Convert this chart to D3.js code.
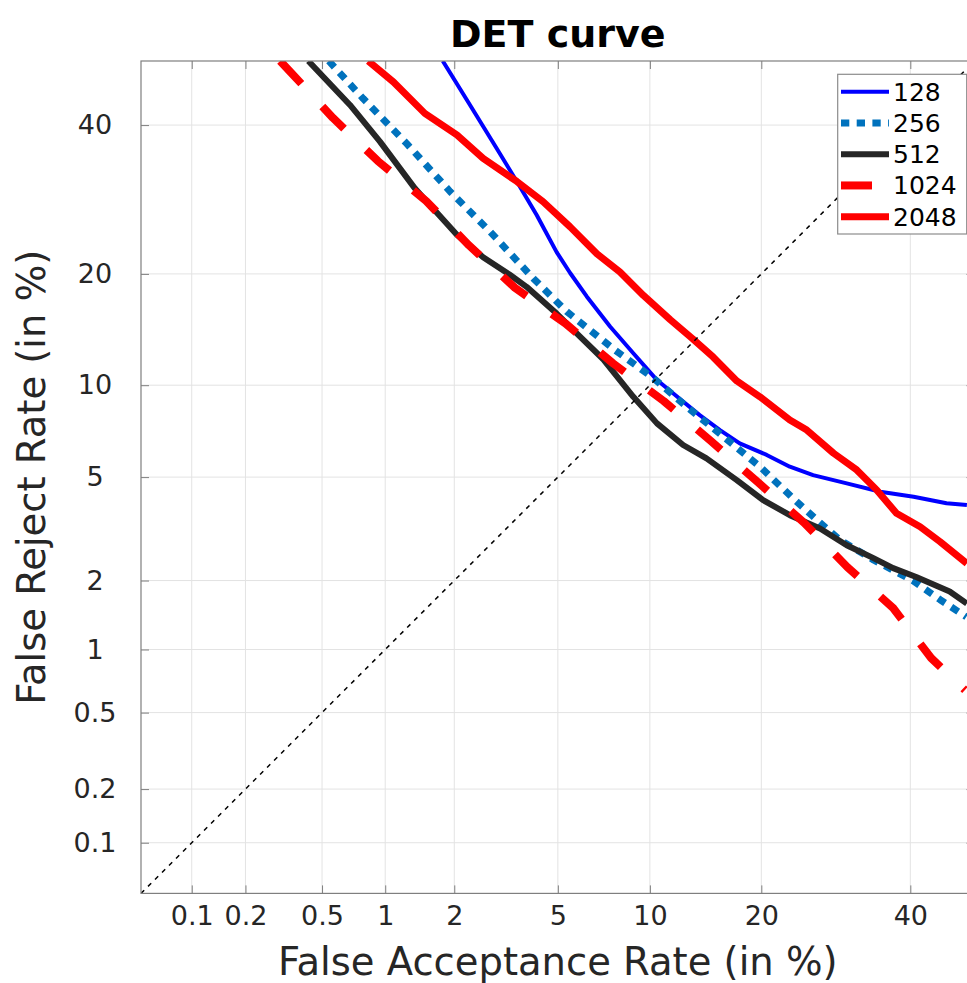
<!DOCTYPE html>
<html>
<head>
<meta charset="utf-8">
<script src="https://cdn.jsdelivr.net/npm/d3@7"></script>
<style>
  html, body { margin: 0; padding: 0; background: #fff; }
  svg { display: block; font-family: "DejaVu Sans", sans-serif; }
</style>
</head>
<body>
<svg id="chart" width="967" height="983"></svg>
<script>
// Tick positions (in %) and their labels
const xTicks = [0.1, 0.2, 0.5, 1, 2, 5, 10, 20, 40];
const yTicks = [0.1, 0.2, 0.5, 1, 2, 5, 10, 20, 40];
const tickLabels = ["0.1", "0.2", "0.5", "1", "2", "5", "10", "20", "40"];
const axisLimits = [0.05, 50];

// Legend entries (embedding sizes)
const seriesNames = ["128", "256", "512", "1024", "2048"];

// False acceptance / false reject rates (in %) for each system
const far128 = [1.79, 2.32, 2.96, 3.54, 4.2, 4.95, 5.52, 6.29, 7.51, 8.9, 10.5, 12.25, 13.9, 15.75, 17.7, 20.6, 23.3, 26.2, 30.7, 35.5, 40.5, 45.6, 48.8];
const frr128 = [50, 43.1, 36.5, 31.7, 27.1, 22.5, 20.1, 17.6, 14.7, 12.4, 10.36, 9.07, 8.08, 7.23, 6.53, 5.97, 5.44, 5.08, 4.75, 4.43, 4.25, 4.02, 3.96];

const far256 = [0.54, 0.79, 1.25, 1.92, 2.79, 4.08, 5.37, 7.79, 10.25, 12.8, 16.1, 19.85, 23.7, 26.7, 29.8, 34.5, 40.5, 44.6, 48.7];
const frr256 = [50, 44.1, 37.2, 30.3, 25.0, 19.5, 16.1, 12.66, 10.5, 8.58, 6.87, 5.44, 4.19, 3.48, 2.91, 2.43, 1.99, 1.66, 1.40];

const far512 = [0.427, 0.684, 0.946, 1.36, 2.05, 2.62, 3.33, 3.85, 4.95, 5.97, 7.15, 8.9, 10.5, 12.5, 14.5, 17.4, 20.2, 23.3, 27.1, 30.7, 34.5, 37.4, 40.9, 46.1, 48.8];
const frr512 = [50, 43.1, 37.5, 30.7, 24.6, 21.9, 19.9, 18.6, 15.9, 13.8, 11.9, 9.22, 7.6, 6.45, 5.81, 4.88, 4.13, 3.63, 3.23, 2.78, 2.47, 2.25, 2.07, 1.80, 1.60];

const far1024 = [0.306, 0.348, 0.566, 0.927, 1.52, 2.30, 3.48, 5.30, 7.68, 11.0, 14.9, 19.6, 25.05, 30.8, 37.4, 43.2, 48.5];
const frr1024 = [50, 48.2, 41.1, 34.6, 29.0, 23.3, 18.5, 15.0, 11.6, 8.94, 6.65, 4.80, 3.40, 2.27, 1.53, 0.914, 0.645];

const far2048 = [0.835, 1.09, 1.50, 2.05, 2.62, 3.54, 4.43, 5.52, 6.8, 8.08, 9.56, 11.5, 13.3, 15.1, 17.4, 19.85, 23.3, 25.4, 28.9, 32.1, 35.0, 37.9, 41.5, 44.6, 48.8];
const frr2048 = [50, 46.7, 41.8, 38.5, 35.0, 31.7, 28.9, 25.6, 22.3, 20.2, 17.7, 15.3, 13.6, 12.1, 10.3, 9.22, 7.79, 7.23, 6.05, 5.3, 4.49, 3.69, 3.28, 2.87, 2.35];

// Inverse of the standard normal CDF (Acklam's rational approximation)
function probit(p) {
  const a = [-3.969683028665376e+01, 2.209460984245205e+02, -2.759285104469687e+02, 1.383577518672690e+02, -3.066479806614716e+01, 2.506628277459239e+00];
  const b = [-5.447609879822406e+01, 1.615858368580409e+02, -1.556989798598866e+02, 6.680131188771972e+01, -1.328068155288572e+01];
  const c = [-7.784894002430293e-03, -3.223964580411365e-01, -2.400758277161838e+00, -2.549732539343734e+00, 4.374664141464968e+00, 2.938163982698783e+00];
  const d = [7.784695709041462e-03, 3.224671290700398e-01, 2.445134137142996e+00, 3.754408661907416e+00];
  const pl = 0.02425, ph = 1 - pl;
  if (p < pl) {
    const q = Math.sqrt(-2 * Math.log(p));
    return (((((c[0]*q+c[1])*q+c[2])*q+c[3])*q+c[4])*q+c[5]) / ((((d[0]*q+d[1])*q+d[2])*q+d[3])*q+1);
  }
  if (p <= ph) {
    const q = p - 0.5, r = q * q;
    return (((((a[0]*r+a[1])*r+a[2])*r+a[3])*r+a[4])*r+a[5])*q / (((((b[0]*r+b[1])*r+b[2])*r+b[3])*r+b[4])*r+1);
  }
  const q = Math.sqrt(-2 * Math.log(1 - p));
  return -(((((c[0]*q+c[1])*q+c[2])*q+c[3])*q+c[4])*q+c[5]) / ((((d[0]*q+d[1])*q+d[2])*q+d[3])*q+1);
}

// Normal-deviate scale for percentages, usable by d3.axis
function scaleProbit(domainPct, range) {
  const lin = d3.scaleLinear().domain(domainPct.map(v => probit(v / 100))).range(range);
  const s = v => lin(probit(v / 100));
  s.domain = () => domainPct.slice();
  s.range = () => lin.range();
  s.copy = () => scaleProbit(domainPct, range);
  return s;
}

const plot = { left: 141, top: 61, right: 974.5, bottom: 893.4 };
const x = scaleProbit(axisLimits, [plot.left, plot.right]);
const y = scaleProbit(axisLimits, [plot.bottom, plot.top]);

const svg = d3.select("#chart");
svg.append("rect").attr("width", 967).attr("height", 983).attr("fill", "#fff");

svg.append("defs").append("clipPath").attr("id", "plot-clip")
  .append("rect")
  .attr("x", plot.left).attr("y", plot.top)
  .attr("width", plot.right - plot.left).attr("height", plot.bottom - plot.top);

// Grid
const grid = svg.append("g").attr("stroke", "#e3e3e3").attr("stroke-width", 1);
grid.selectAll("line.gx").data(xTicks).join("line").attr("class", "gx")
  .attr("x1", d => x(d)).attr("x2", d => x(d))
  .attr("y1", plot.top).attr("y2", plot.bottom);
grid.selectAll("line.gy").data(yTicks).join("line").attr("class", "gy")
  .attr("y1", d => y(d)).attr("y2", d => y(d))
  .attr("x1", plot.left).attr("x2", plot.right);

// Curves
const series = [
  { name: seriesNames[0], far: far128,  frr: frr128,  color: "#0000ff", width: 4, dash: null },
  { name: seriesNames[1], far: far256,  frr: frr256,  color: "#0072bd", width: 7, dash: "8.3 7.4" },
  { name: seriesNames[2], far: far512,  frr: frr512,  color: "#262626", width: 6, dash: null },
  { name: seriesNames[3], far: far1024, frr: frr1024, color: "#ff0000", width: 8, dash: "31 31" },
  { name: seriesNames[4], far: far2048, frr: frr2048, color: "#ff0000", width: 7, dash: null }
];

const line = d3.line().x(d => x(d[0])).y(d => y(d[1]));
const curves = svg.append("g").attr("clip-path", "url(#plot-clip)");
curves.selectAll("path.curve").data(series).join("path").attr("class", "curve")
  .attr("d", s => line(s.far.map((f, i) => [f, s.frr[i]])))
  .attr("fill", "none")
  .attr("stroke", s => s.color)
  .attr("stroke-width", s => s.width)
  .attr("stroke-dasharray", s => s.dash)
  .attr("stroke-linejoin", "round");

// Equal error rate diagonal
curves.append("path")
  .attr("d", line([[axisLimits[0], axisLimits[0]], [axisLimits[1], axisLimits[1]]]))
  .attr("fill", "none").attr("stroke", "#000").attr("stroke-width", 1.5)
  .attr("stroke-dasharray", "4.5 5.4");

// Axes with inward ticks on all four sides
const fmt = d => tickLabels[xTicks.indexOf(d)];
function styleAxis(g) {
  g.select(".domain").remove();
  g.selectAll(".tick line").attr("stroke", "#7f7f7f");
  g.selectAll(".tick text").attr("fill", "#262626").attr("font-size", 27)
    .attr("font-family", "DejaVu Sans, sans-serif");
}
svg.append("g").attr("transform", `translate(0,${plot.bottom})`)
  .call(d3.axisBottom(x).tickValues(xTicks).tickFormat(fmt).tickSizeInner(-8).tickSizeOuter(0).tickPadding(12))
  .call(styleAxis);
svg.append("g").attr("transform", `translate(0,${plot.top})`)
  .call(d3.axisTop(x).tickValues(xTicks).tickFormat("").tickSizeInner(-8).tickSizeOuter(0))
  .call(styleAxis);
svg.append("g").attr("transform", `translate(${plot.left},0)`)
  .call(d3.axisLeft(y).tickValues(yTicks).tickFormat(d => tickLabels[yTicks.indexOf(d)]).tickSizeInner(-8).tickSizeOuter(0).tickPadding(0))
  .call(styleAxis)
  .call(g => g.selectAll(".tick text").attr("text-anchor", "middle").attr("x", -46));
svg.append("g").attr("transform", `translate(${plot.right},0)`)
  .call(d3.axisRight(y).tickValues(yTicks).tickFormat("").tickSizeInner(-8).tickSizeOuter(0))
  .call(styleAxis);

// Frame
svg.append("rect")
  .attr("x", plot.left).attr("y", plot.top)
  .attr("width", plot.right - plot.left).attr("height", plot.bottom - plot.top)
  .attr("fill", "none").attr("stroke", "#7f7f7f").attr("stroke-width", 1.2);

// Title and axis labels
svg.append("text").attr("x", (plot.left + plot.right) / 2).attr("y", 47)
  .attr("text-anchor", "middle").attr("font-size", 38).attr("font-weight", "bold")
  .attr("fill", "#000").text("DET curve");
svg.append("text").attr("x", (plot.left + plot.right) / 2).attr("y", 975)
  .attr("text-anchor", "middle").attr("font-size", 38.5).attr("fill", "#262626")
  .text("False Acceptance Rate (in %)");
svg.append("text").attr("transform", "rotate(-90)")
  .attr("x", -(plot.top + plot.bottom) / 2).attr("y", 45)
  .attr("text-anchor", "middle").attr("font-size", 38.5).attr("fill", "#262626")
  .text("False Reject Rate (in %)");

// Legend
const legend = svg.append("g");
legend.append("rect").attr("x", 837.7).attr("y", 74.3).attr("width", 129).attr("height", 159.7)
  .attr("fill", "#fff").attr("stroke", "#8c8c8c").attr("stroke-width", 1.2);
const rowY = d3.scaleLinear().domain([0, 4]).range([91.7, 216.7]);
const rows = legend.selectAll("g.row").data(series).join("g").attr("class", "row")
  .attr("transform", (d, i) => `translate(0,${rowY(i)})`);
rows.append("line").attr("x1", 841).attr("x2", 889).attr("y1", 0).attr("y2", 0)
  .attr("stroke", s => s.color).attr("stroke-width", s => s.width)
  .attr("stroke-dasharray", s => s.dash);
rows.append("text").attr("x", 893).attr("y", 9).attr("font-size", 25).attr("fill", "#000")
  .text(s => s.name);
</script>
</body>
</html>
